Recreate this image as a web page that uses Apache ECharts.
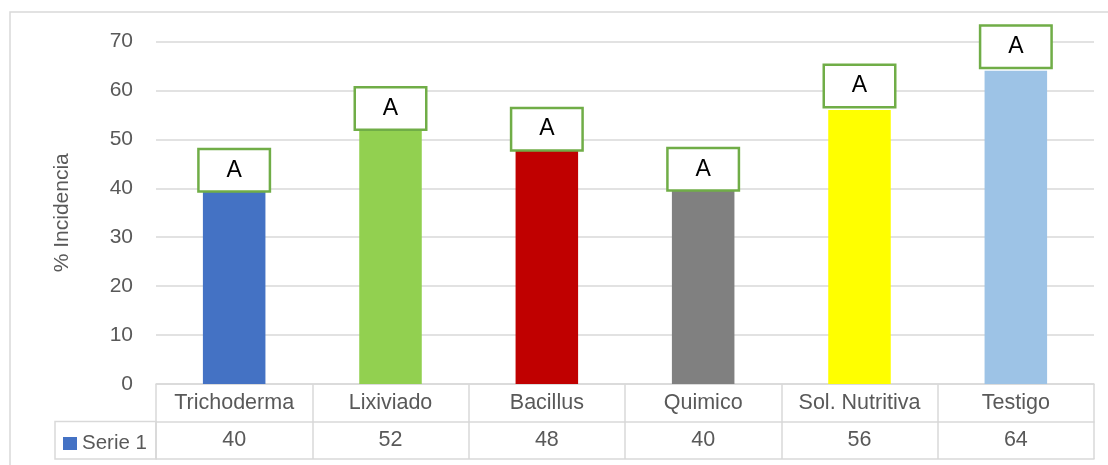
<!DOCTYPE html>
<html>
<head>
<meta charset="utf-8">
<script src="https://cdn.jsdelivr.net/npm/echarts@6/dist/echarts.min.js"></script>
<style>
html,body{margin:0;padding:0;background:#fff;}
#chart{width:1108px;height:465px;}
</style>
</head>
<body>
<div id="chart"></div>
<script>
const categories = ['Trichoderma', 'Lixiviado', 'Bacillus', 'Quimico', 'Sol. Nutritiva', 'Testigo'];
const values = [40, 52, 48, 40, 56, 64];
const letters = ['A', 'A', 'A', 'A', 'A', 'A'];
const barColors = ['#4472c4', '#92d050', '#c00000', '#808080', '#ffff00', '#9dc3e6'];
const seriesName = 'Serie 1';
const yTicks = { min: 0, max: 70, interval: 10 };

const FONT = 'Liberation Sans';
const GREY = '#595959';
const LINE = '#d9d9d9';
// small per-label vertical gaps, as placed in the original
const labelGaps = [-2, 1, 0, -1, 4, 4];

const chart = echarts.init(document.getElementById('chart'));
chart.setOption({
  animation: false,
  textStyle: { fontFamily: FONT },
  grid: { left: 156, right: 14, top: 41.5, bottom: 81 },
  legend: {
    data: [seriesName],
    left: 58, top: 428,
    icon: 'rect', itemWidth: 14, itemHeight: 13,
    textStyle: { fontFamily: FONT, fontSize: 20.5, color: GREY },
    selectedMode: false
  },
  xAxis: [
    {
      type: 'category', data: categories, position: 'bottom',
      axisLine: { show: true, lineStyle: { color: LINE, width: 1.5 } },
      axisTick: { show: true, length: 75, lineStyle: { color: LINE, width: 1.5 } },
      axisLabel: { fontFamily: FONT, fontSize: 21.5, color: GREY, margin: 8, interval: 0 }
    },
    {
      type: 'category', data: categories, position: 'bottom', offset: 37.5,
      axisLine: { show: true, lineStyle: { color: LINE, width: 1.5 } },
      axisTick: { show: false },
      axisLabel: { fontFamily: FONT, fontSize: 21.5, color: GREY, margin: 8, interval: 0,
        formatter: (v, i) => String(values[i]) }
    },
    {
      type: 'category', data: categories, position: 'bottom', offset: 75,
      axisLine: { show: true, lineStyle: { color: LINE, width: 1.5 } },
      axisTick: { show: false },
      axisLabel: { show: false }
    }
  ],
  yAxis: {
    type: 'value', min: yTicks.min, max: yTicks.max, interval: yTicks.interval,
    name: '% Incidencia', nameLocation: 'middle', nameGap: 83, nameRotate: 90,
    nameTextStyle: { fontFamily: FONT, fontSize: 21, color: GREY },
    axisLine: { show: false }, axisTick: { show: false },
    axisLabel: { fontFamily: FONT, fontSize: 21, color: GREY, margin: 23 },
    splitLine: { lineStyle: { color: LINE, width: 1.5 } }
  },
  series: [{
    name: seriesName, type: 'bar', xAxisIndex: 0,
    barWidth: '40%',
    itemStyle: { color: barColors[0] },
    data: values.map((v, i) => ({
      value: v,
      itemStyle: { color: barColors[i] },
      label: { distance: labelGaps[i] }
    })),
    label: {
      show: true, position: 'top', distance: -1,
      formatter: p => letters[p.dataIndex],
      fontFamily: FONT, fontSize: 23, color: '#000',
      backgroundColor: '#fff', borderColor: '#70ad47', borderWidth: 2.5,
      width: 69, height: 40, lineHeight: 40, align: 'center'
    },
    z: 3
  }],
  graphic: [
    { type: 'rect', shape: { x: 10, y: 12, width: 1200, height: 600 },
      style: { fill: 'none', stroke: LINE, lineWidth: 1.5 }, silent: true, z: -1 },
    { type: 'rect', shape: { x: 55, y: 421.5, width: 101, height: 37.5 },
      style: { fill: 'none', stroke: LINE, lineWidth: 1.5 }, silent: true }
  ]
});
</script>
</body>
</html>
